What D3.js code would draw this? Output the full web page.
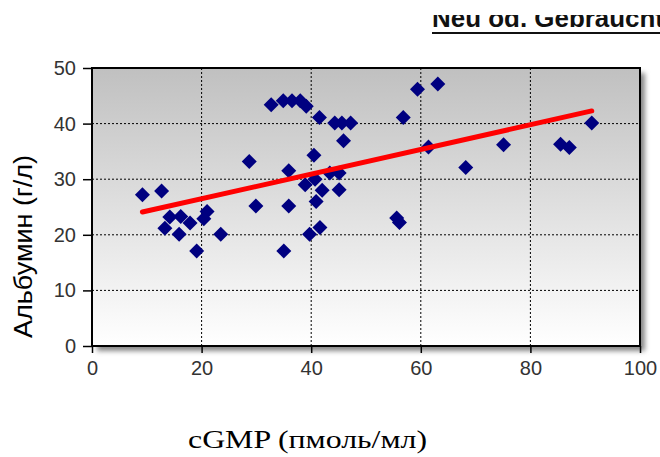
<!DOCTYPE html>
<html>
<head>
<meta charset="utf-8">
<script src="https://cdn.jsdelivr.net/npm/d3@7"></script>
<style>
  html, body { margin: 0; padding: 0; background: #fff; }
  svg { display: block; }
</style>
</head>
<body>
<div id="chart"></div>
<script>
// cGMP (pmol/ml) vs albumin (g/l), one point per patient
const cgmp = [
  9.2, 12.7, 13.3, 14.2, 16.2, 15.9, 17.9, 19.1, 20.4, 21.0, 23.5,
  28.7, 29.9, 32.7, 34.9, 36.5, 38.0, 39.1, 41.5, 44.3, 45.6, 47.2,
  45.9, 40.5, 35.9, 43.4, 45.1, 38.9, 40.7, 42.0, 45.1, 40.9, 35.9,
  41.6, 39.7, 35.0, 55.6, 56.1, 56.8, 59.4, 63.1, 61.4, 68.2, 75.1,
  85.5, 87.1, 91.2
];
const albumin = [
  27.2, 27.9, 21.2, 23.2, 23.3, 20.1, 22.1, 17.1, 22.9, 24.2, 20.1,
  33.2, 25.2, 43.4, 44.1, 44.1, 44.1, 43.1, 41.1, 40.1, 40.1, 40.1,
  36.9, 34.3, 31.5, 31.1, 31.1, 29.0, 30.0, 28.0, 28.1, 26.0, 25.2,
  21.3, 20.1, 17.1, 23.0, 22.2, 41.1, 46.2, 47.1, 35.8, 32.1, 36.2,
  36.3, 35.7, 40.1
];

// linear trend line: albumin = intercept + slope * cGMP
const trendIntercept = 22.05;
const trendSlope = 0.2218;

const xTicks = [0, 20, 40, 60, 80, 100];
const yTicks = [0, 10, 20, 30, 40, 50];

const titleText = "Neu od. Gebraucht";
const xLabel = "cGMP (пмоль/мл)";
const yLabel = "Альбумин (г/л)";

const W = 660, H = 457;
const m = { left: 92, top: 68, right: 20, bottom: 111 };
const pw = W - m.left - m.right;   // 548
const ph = H - m.top - m.bottom;   // 278

const svg = d3.select("#chart").append("svg")
  .attr("width", W).attr("height", H);

const defs = svg.append("defs");
const grad = defs.append("linearGradient")
  .attr("id", "bg").attr("x1", 0).attr("y1", 0).attr("x2", 0).attr("y2", 1);
grad.append("stop").attr("offset", "0%").attr("stop-color", "#c0c0c0");
grad.append("stop").attr("offset", "100%").attr("stop-color", "#ffffff");

const blur = defs.append("filter").attr("id", "shadow")
  .attr("x", "-10%").attr("y", "-10%").attr("width", "120%").attr("height", "120%");
blur.append("feGaussianBlur").attr("stdDeviation", 2.5);

defs.append("clipPath").attr("id", "titleClip")
  .append("rect").attr("x", 0).attr("y", 15).attr("width", W).attr("height", 30);

// header text, partially cut at the top edge
const title = svg.append("g").attr("clip-path", "url(#titleClip)");
title.append("text")
  .attr("x", 432).attr("y", 27)
  .attr("font-family", "Liberation Sans, Arial, sans-serif")
  .attr("font-weight", "bold")
  .attr("font-size", 25)
  .attr("textLength", 232)
  .attr("lengthAdjust", "spacingAndGlyphs")
  .attr("fill", "#111")
  .text(titleText);
title.append("line")
  .attr("x1", 432).attr("x2", W).attr("y1", 33).attr("y2", 33)
  .attr("stroke", "#111").attr("stroke-width", 2);

const x = d3.scaleLinear().domain([0, 100]).range([0, pw]);
const y = d3.scaleLinear().domain([0, 50]).range([ph, 0]);

const g = svg.append("g").attr("transform", `translate(${m.left},${m.top})`);

// drop shadow behind plot area
g.append("rect")
  .attr("x", 5).attr("y", 5).attr("width", pw).attr("height", ph)
  .attr("fill", "#888").attr("filter", "url(#shadow)");

g.append("rect")
  .attr("width", pw).attr("height", ph)
  .attr("fill", "url(#bg)");

// dashed gridlines
g.append("g").selectAll("line.v")
  .data(xTicks.filter(d => d > 0 && d < 100))
  .join("line")
  .attr("x1", d => x(d)).attr("x2", d => x(d))
  .attr("y1", 0).attr("y2", ph)
  .attr("stroke", "#000").attr("stroke-width", 1).attr("stroke-dasharray", "2,2");
g.append("g").selectAll("line.h")
  .data(yTicks.filter(d => d > 0 && d < 50))
  .join("line")
  .attr("x1", 0).attr("x2", pw)
  .attr("y1", d => y(d)).attr("y2", d => y(d))
  .attr("stroke", "#000").attr("stroke-width", 1).attr("stroke-dasharray", "2,2");

// frame
g.append("rect")
  .attr("width", pw).attr("height", ph)
  .attr("fill", "none").attr("stroke", "#000").attr("stroke-width", 2);

// axes
const xAxis = g.append("g").attr("transform", `translate(0,${ph})`)
  .call(d3.axisBottom(x).tickValues(xTicks).tickSize(7).tickPadding(8).tickSizeOuter(0));
const yAxis = g.append("g")
  .call(d3.axisLeft(y).tickValues(yTicks).tickSize(9).tickPadding(7).tickSizeOuter(0));
[xAxis, yAxis].forEach(a => {
  a.select(".domain").remove();
  a.selectAll(".tick line").attr("stroke", "#000").attr("stroke-width", 1.5);
  a.selectAll(".tick text")
    .attr("font-family", "Liberation Sans, Arial, sans-serif")
    .attr("font-size", 20)
    .attr("fill", "#333");
});

// points
const diamond = "M0,-7.5L7.5,0L0,7.5L-7.5,0Z";
g.append("g").selectAll("path")
  .data(cgmp.map((c, i) => [c, albumin[i]]))
  .join("path")
  .attr("d", diamond)
  .attr("transform", d => `translate(${x(d[0])},${y(d[1])})`)
  .attr("fill", "#000080");

// trend line across the data range
const xr = d3.extent(cgmp);
g.append("line")
  .attr("x1", x(xr[0])).attr("y1", y(trendIntercept + trendSlope * xr[0]))
  .attr("x2", x(xr[1])).attr("y2", y(trendIntercept + trendSlope * xr[1]))
  .attr("stroke", "#ff0000").attr("stroke-width", 5).attr("stroke-linecap", "round");

// axis titles
svg.append("text")
  .attr("x", 307.5).attr("y", 448)
  .attr("text-anchor", "middle")
  .attr("font-family", "Liberation Serif, Times New Roman, serif")
  .attr("font-size", 25)
  .attr("textLength", 239)
  .attr("lengthAdjust", "spacingAndGlyphs")
  .attr("fill", "#000")
  .text(xLabel);

svg.append("text")
  .attr("transform", "translate(32,246.5) rotate(-90)")
  .attr("text-anchor", "middle")
  .attr("font-family", "Liberation Sans, Arial, sans-serif")
  .attr("font-size", 26)
  .attr("textLength", 183)
  .attr("lengthAdjust", "spacingAndGlyphs")
  .attr("fill", "#000")
  .text(yLabel);
</script>
</body>
</html>
